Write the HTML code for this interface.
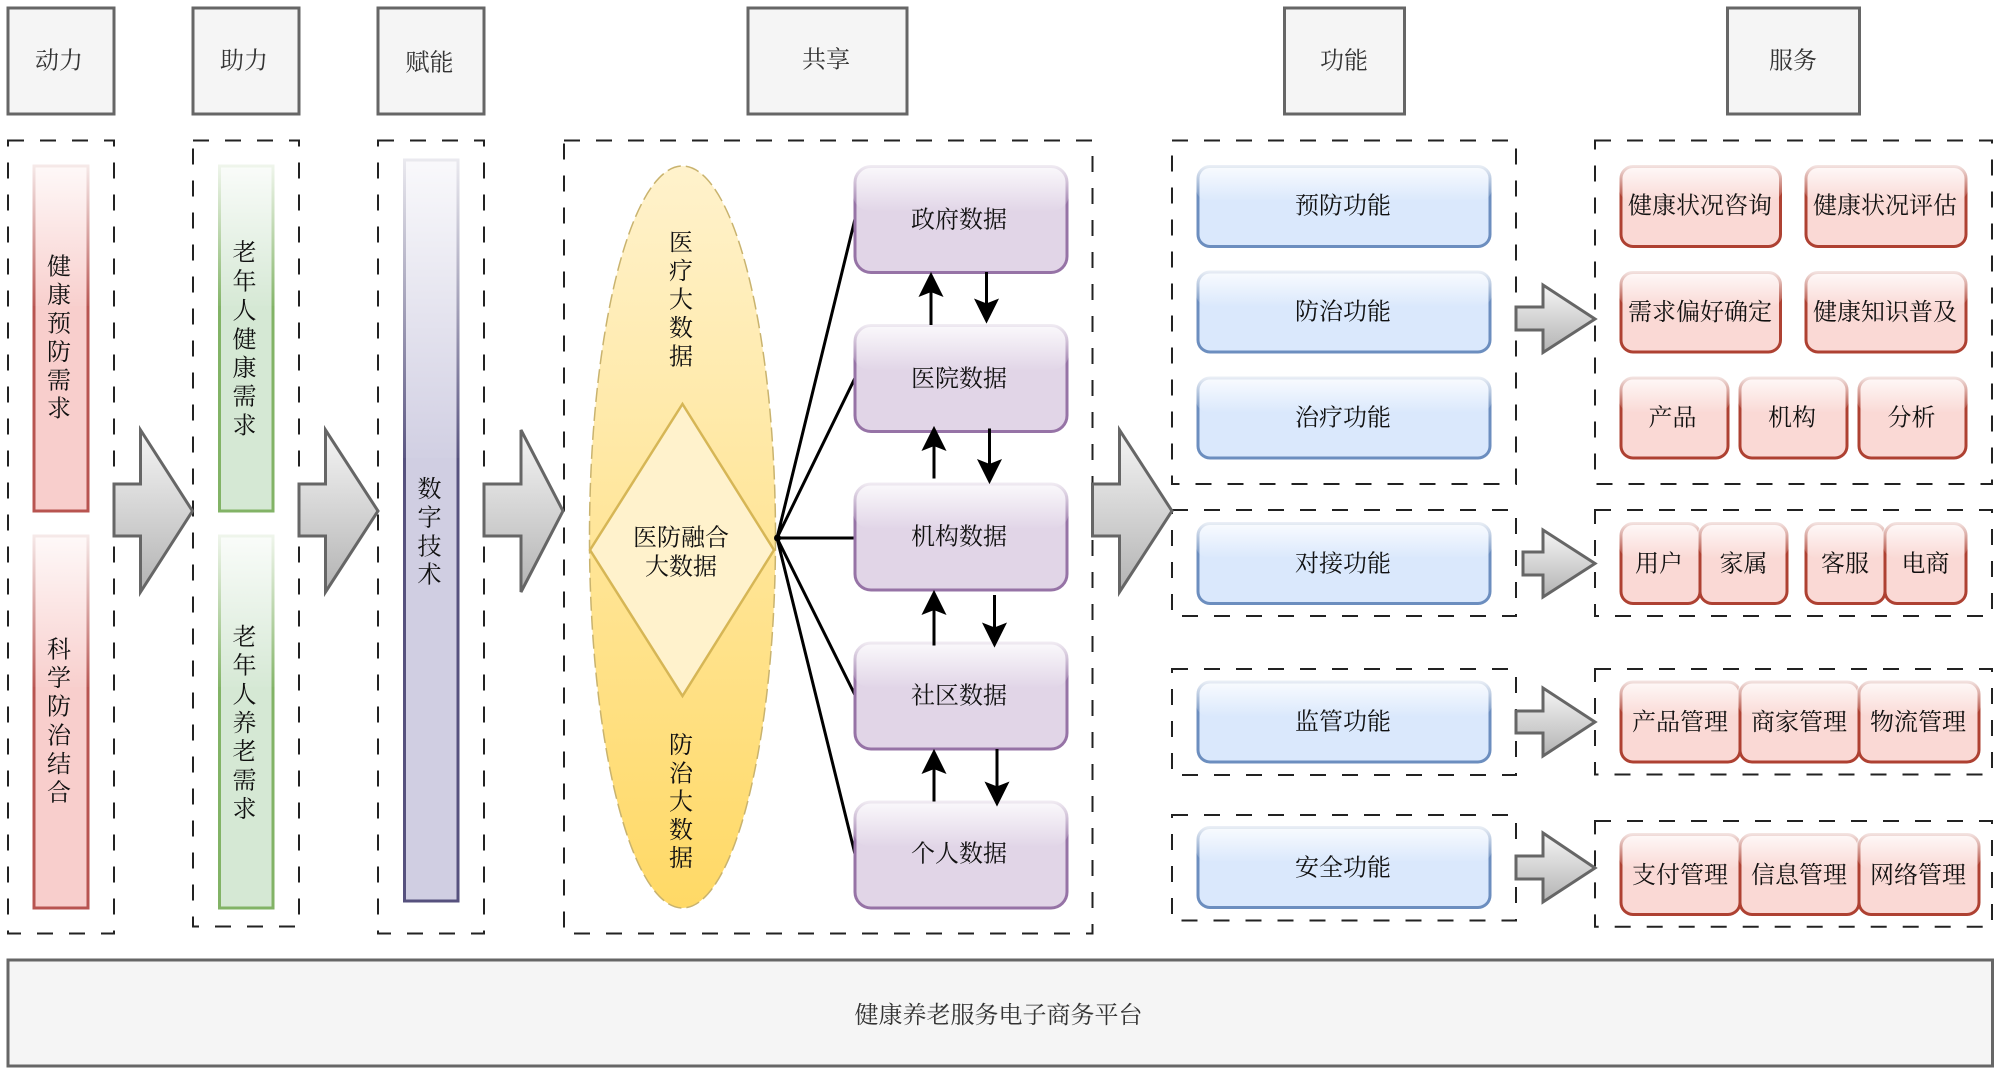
<!DOCTYPE html>
<html><head><meta charset="utf-8"><style>
html,body{margin:0;padding:0;background:#fff}
svg{display:block}
text{font-family:"Liberation Serif","Noto Serif CJK SC",serif;font-size:24px;fill:#111;text-anchor:middle;dominant-baseline:central;transform:translateY(2.5px)}
.v text{transform:translateY(1.3px)}
.hd rect{fill:#f5f5f5;stroke:#666;stroke-width:3}
.hd text{fill:#333}
.d{fill:none;stroke:#222;stroke-width:2;stroke-dasharray:16 16}
.ar{fill:url(#ga);stroke:#666;stroke-width:3}
.red{fill:#f8cecc;stroke:#b85450;stroke-width:3}
.grn{fill:#d5e8d4;stroke:#82b366;stroke-width:3}
.pur{fill:#d0cee2;stroke:#56517e;stroke-width:3}
.pb{fill:#e1d5e7;stroke:#9673a6;stroke-width:3}
.bl{fill:#dae8fc;stroke:#6c8ebf;stroke-width:3}
.rd{fill:#fad9d5;stroke:#ae4132;stroke-width:3}
.gl{fill:url(#gg);stroke:none}
.ln{stroke:#000;stroke-width:3;fill:none}
</style></head><body>
<svg width="2000" height="1074" viewBox="0 0 2000 1074" xmlns="http://www.w3.org/2000/svg">
<defs>
<linearGradient id="ga" x1="0" y1="0" x2="0" y2="1"><stop offset="0" stop-color="#f5f5f5"/><stop offset="1" stop-color="#b3b3b3"/></linearGradient>
<linearGradient id="gg" x1="0" y1="0" x2="0" y2="1"><stop offset="0" stop-color="#fff" stop-opacity=".88"/><stop offset="1" stop-color="#fff" stop-opacity=".03"/></linearGradient>
<linearGradient id="ge" x1="0" y1="0" x2="0" y2="1"><stop offset="0" stop-color="#fff2cc"/><stop offset="1" stop-color="#ffd966"/></linearGradient>
</defs>

<!-- headers -->
<g class="hd">
<rect x="8" y="8" width="106" height="106"/><text x="59" y="59">动力</text>
<rect x="193" y="8" width="106" height="106"/><text x="244" y="59">助力</text>
<rect x="378" y="8" width="106" height="106"/><text x="429.5" y="61">赋能</text>
<rect x="748" y="8" width="159" height="106"/><text x="826" y="58">共享</text>
<rect x="1284.5" y="8" width="120" height="106"/><text x="1344" y="59">功能</text>
<rect x="1727.500" y="8" width="132" height="106"/><text x="1793" y="59">服务</text>
<rect x="8" y="960" width="1984.500" height="106"/><text x="998.5" y="1013.5">健康养老服务电子商务平台</text>
</g>

<!-- dashed containers -->
<rect class="d" x="8" y="140.5" width="106" height="793"/>
<rect class="d" x="193" y="140.5" width="106" height="786"/>
<rect class="d" x="378" y="140.5" width="106" height="793"/>
<rect class="d" x="564" y="140.5" width="528.5" height="793"/>
<rect class="d" x="1172" y="140.5" width="344" height="343.5"/>
<rect class="d" x="1172" y="510" width="344" height="106"/>
<rect class="d" x="1172" y="669" width="344" height="106"/>
<rect class="d" x="1172" y="815" width="344" height="105.5"/>
<rect class="d" x="1595" y="140.5" width="397" height="343.5"/>
<rect class="d" x="1595" y="510" width="397" height="106"/>
<rect class="d" x="1595" y="669" width="397" height="105.500"/>
<rect class="d" x="1595" y="821" width="397" height="105.700"/>

<!-- column bars -->
<rect class="red" x="34" y="166" width="54" height="345"/><rect class="gl" x="32" y="164" width="58" height="142"/>
<rect class="red" x="34" y="536" width="54" height="372"/><rect class="gl" x="32" y="534" width="58" height="153"/>
<rect class="grn" x="219.5" y="166" width="53.5" height="345"/><rect class="gl" x="217.5" y="164" width="57.5" height="142"/>
<rect class="grn" x="219.5" y="536" width="53.5" height="372"/><rect class="gl" x="217.5" y="534" width="57.5" height="153"/>
<rect class="pur" x="404.5" y="160" width="53.5" height="741"/><rect class="gl" x="402.5" y="158" width="57.5" height="300"/>

<g class="v">
<text x="59" y="266">健</text><text x="59" y="294.5">康</text><text x="59" y="323">预</text><text x="59" y="351.5">防</text><text x="59" y="380">需</text><text x="59" y="408">求</text>
<text x="59" y="649">科</text><text x="59" y="677.5">学</text><text x="59" y="706">防</text><text x="59" y="735">治</text><text x="59" y="763.5">结</text><text x="59" y="792">合</text>
</g>
<text x="244.5" y="251">老</text><text x="244.5" y="280">年</text><text x="244.5" y="309">人</text><text x="244.5" y="338">健</text><text x="244.5" y="366.5">康</text><text x="244.5" y="395">需</text><text x="244.5" y="424">求</text>
<text x="244.5" y="635.5">老</text><text x="244.5" y="664">年</text><text x="244.5" y="693">人</text><text x="244.5" y="721.5">养</text><text x="244.5" y="750">老</text><text x="244.5" y="779">需</text><text x="244.5" y="807.5">求</text>
<text x="429.5" y="487.5">数</text><text x="429.5" y="516">字</text><text x="429.5" y="545">技</text><text x="429.5" y="573">术</text>

<!-- big arrows -->
<path class="ar" d="M114 484H140.5V430L192.5 511L140.5 592V536H114Z"/>
<path class="ar" d="M299 484H325.5V430L378 511L325.5 592V536H299Z"/>
<path class="ar" d="M484 484H521V430L563 511L521 592V536H484Z"/>
<path class="ar" d="M1092.5 484H1119.5V430L1172 511L1119.5 592V536H1092.5Z"/>
<path class="ar" d="M1516 307H1543V285L1595 319L1543 352.5V330H1516Z"/>
<path class="ar" d="M1523 552H1543V530L1595 563.5L1543 597V575H1523Z"/>
<path class="ar" d="M1516 711H1543V688L1595 722L1543 756V733H1516Z"/>
<path class="ar" d="M1516 856H1543V833L1595 868L1543 902V879H1516Z"/>

<!-- ellipse + diamond -->
<ellipse cx="682.500" cy="537" rx="93" ry="371" fill="url(#ge)" stroke="#c9b36e" stroke-width="1.500" stroke-dasharray="14 5"/>
<path d="M682.5 404L774 550L682.5 696L590 550Z" fill="#fff2cc" stroke="#d6b656" stroke-width="2.5"/>
<g class="v">
<text x="681" y="242">医</text><text x="681" y="270.5">疗</text><text x="681" y="299">大</text><text x="681" y="327.5">数</text><text x="681" y="356">据</text>
<text x="681" y="744.5">防</text><text x="681" y="773">治</text><text x="681" y="801">大</text><text x="681" y="829.5">数</text><text x="681" y="857.5">据</text>
</g>
<text x="681" y="536">医防融合</text><text x="681" y="565">大数据</text>

<!-- hub lines -->
<path class="ln" d="M777 538L855 219M777 538L855 378M777 538H855M777 538L855 695M777 538L855 854"/>
<circle cx="777.5" cy="538" r="3.5" fill="#000"/>

<!-- data boxes -->
<rect class="pb" x="855" y="166.5" width="212" height="106" rx="16"/><rect class="gl" x="853" y="164.5" width="216" height="46" rx="16"/>
<rect class="pb" x="855" y="325.5" width="212" height="106" rx="16"/><rect class="gl" x="853" y="323.5" width="216" height="46" rx="16"/>
<rect class="pb" x="855" y="484" width="212" height="106" rx="16"/><rect class="gl" x="853" y="482" width="216" height="46" rx="16"/>
<rect class="pb" x="855" y="643" width="212" height="106" rx="16"/><rect class="gl" x="853" y="641" width="216" height="46" rx="16"/>
<rect class="pb" x="855" y="802" width="212" height="106" rx="16"/><rect class="gl" x="853" y="800" width="216" height="46" rx="16"/>
<text x="959" y="218">政府数据</text><text x="959" y="377">医院数据</text><text x="959" y="535">机构数据</text><text x="959" y="694">社区数据</text><text x="959" y="852">个人数据</text>

<!-- vertical arrows -->
<path class="ln" d="M931 325V290M934 478.5V444M934 645.5V608M934 801.5V767M986.5 272V305M989.5 428.5V466M994.5 595V629M997 749V788"/>
<path d="M931 273L942.5 296L931 291.500L919.500 296Z" fill="#000" stroke="#000" stroke-width="1"/>
<path d="M934 427L945.500 450L934 445.500L922.500 450Z" fill="#000" stroke="#000" stroke-width="1"/>
<path d="M934 591L945.500 614L934 609.500L922.500 614Z" fill="#000" stroke="#000" stroke-width="1"/>
<path d="M934 750L945.500 773L934 768.500L922.500 773Z" fill="#000" stroke="#000" stroke-width="1"/>
<path d="M986.500 322.500L975 299.500L986.500 304L998 299.500Z" fill="#000" stroke="#000" stroke-width="1"/>
<path d="M989.500 483L978 460L989.500 464.500L1001 460Z" fill="#000" stroke="#000" stroke-width="1"/>
<path d="M994.500 646.500L983 623.500L994.500 628L1006 623.500Z" fill="#000" stroke="#000" stroke-width="1"/>
<path d="M997 805.500L985.500 782.500L997 787L1008.500 782.500Z" fill="#000" stroke="#000" stroke-width="1"/>

<!-- function boxes -->
<rect class="bl" x="1198" y="166.500" width="292" height="80" rx="12"/><rect class="gl" x="1196" y="164.500" width="296" height="36" rx="12"/>
<rect class="bl" x="1198" y="272" width="292" height="80" rx="12"/><rect class="gl" x="1196" y="270" width="296" height="36" rx="12"/>
<rect class="bl" x="1198" y="378" width="292" height="80" rx="12"/><rect class="gl" x="1196" y="376" width="296" height="36" rx="12"/>
<rect class="bl" x="1198" y="523.500" width="292" height="80" rx="12"/><rect class="gl" x="1196" y="521.500" width="296" height="36" rx="12"/>
<rect class="bl" x="1198" y="682" width="292" height="80" rx="12"/><rect class="gl" x="1196" y="680" width="296" height="36" rx="12"/>
<rect class="bl" x="1198" y="827.500" width="292" height="80" rx="12"/><rect class="gl" x="1196" y="825.500" width="296" height="36" rx="12"/>
<text x="1343" y="204">预防功能</text><text x="1343" y="310">防治功能</text><text x="1343" y="416">治疗功能</text><text x="1343" y="562">对接功能</text><text x="1343" y="720">监管功能</text><text x="1343" y="866">安全功能</text>

<!-- service boxes -->
<rect class="rd" x="1621" y="166.500" width="159.500" height="80" rx="12"/><rect class="gl" x="1619" y="164.500" width="163.500" height="36" rx="12"/>
<rect class="rd" x="1806" y="166.500" width="160" height="80" rx="12"/><rect class="gl" x="1804" y="164.500" width="164" height="36" rx="12"/>
<rect class="rd" x="1621" y="272.500" width="159.500" height="79.500" rx="12"/><rect class="gl" x="1619" y="270.500" width="163.500" height="36" rx="12"/>
<rect class="rd" x="1806" y="272.500" width="160" height="79.500" rx="12"/><rect class="gl" x="1804" y="270.500" width="164" height="36" rx="12"/>
<rect class="rd" x="1621" y="378" width="107" height="80" rx="12"/><rect class="gl" x="1619" y="376" width="111" height="36" rx="12"/>
<rect class="rd" x="1740" y="378" width="107" height="80" rx="12"/><rect class="gl" x="1738" y="376" width="111" height="36" rx="12"/>
<rect class="rd" x="1859" y="378" width="107" height="80" rx="12"/><rect class="gl" x="1857" y="376" width="111" height="36" rx="12"/>
<rect class="rd" x="1621" y="523.500" width="79" height="80" rx="12"/><rect class="gl" x="1619" y="521.500" width="83" height="36" rx="12"/>
<rect class="rd" x="1700" y="523.500" width="87" height="80" rx="12"/><rect class="gl" x="1698" y="521.500" width="91" height="36" rx="12"/>
<rect class="rd" x="1806" y="523.500" width="79" height="80" rx="12"/><rect class="gl" x="1804" y="521.500" width="83" height="36" rx="12"/>
<rect class="rd" x="1885" y="523.500" width="81" height="80" rx="12"/><rect class="gl" x="1883" y="521.500" width="85" height="36" rx="12"/>
<rect class="rd" x="1621" y="682" width="119" height="80" rx="12"/><rect class="gl" x="1619" y="680" width="123" height="36" rx="12"/>
<rect class="rd" x="1740" y="682" width="119" height="80" rx="12"/><rect class="gl" x="1738" y="680" width="123" height="36" rx="12"/>
<rect class="rd" x="1859" y="682" width="120" height="80" rx="12"/><rect class="gl" x="1857" y="680" width="124" height="36" rx="12"/>
<rect class="rd" x="1621" y="834.500" width="119" height="80" rx="12"/><rect class="gl" x="1619" y="832.500" width="123" height="36" rx="12"/>
<rect class="rd" x="1740" y="834.500" width="119" height="80" rx="12"/><rect class="gl" x="1738" y="832.500" width="123" height="36" rx="12"/>
<rect class="rd" x="1859" y="834.500" width="120" height="80" rx="12"/><rect class="gl" x="1857" y="832.500" width="124" height="36" rx="12"/>

<text x="1700" y="204">健康状况咨询</text><text x="1885" y="204">健康状况评估</text>
<text x="1700" y="310.500">需求偏好确定</text><text x="1885" y="310.500">健康知识普及</text>
<text x="1672.500" y="416">产品</text><text x="1792" y="416">机构</text><text x="1911.500" y="416">分析</text>
<text x="1659" y="562">用户</text><text x="1743.500" y="562">家属</text><text x="1845" y="562">客服</text><text x="1925.500" y="562">电商</text>
<text x="1680" y="720.500">产品管理</text><text x="1799" y="720.500">商家管理</text><text x="1918" y="720.500">物流管理</text>
<text x="1680" y="873.500">支付管理</text><text x="1799" y="873.500">信息管理</text><text x="1918" y="873.500">网络管理</text>
</svg>
</body></html>
